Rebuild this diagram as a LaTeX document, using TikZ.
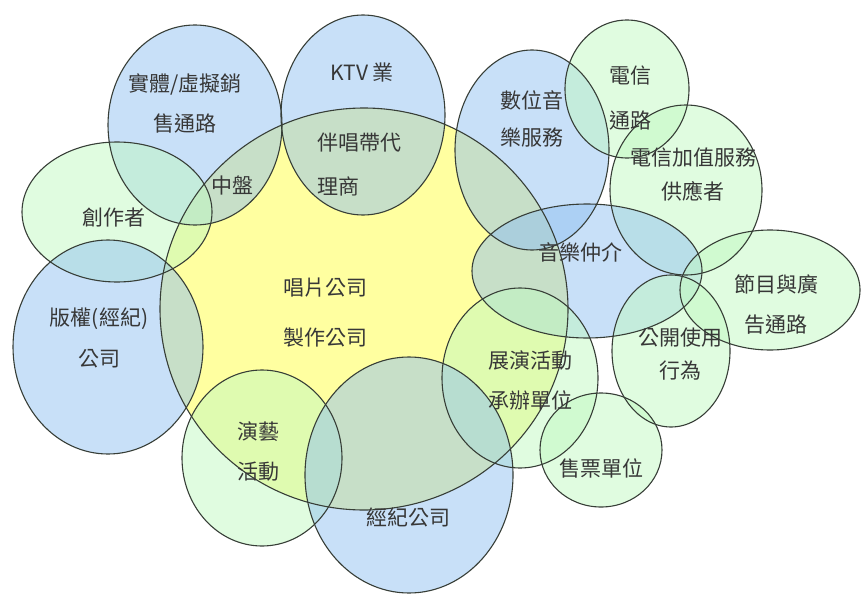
\documentclass[tikz,border=0pt]{standalone}
\usepackage{fontspec}
\setmainfont{Noto Sans CJK TC}
\usetikzlibrary{shapes.geometric}

\definecolor{zoneblue}{RGB}{145,193,241}
\definecolor{zonegreen}{RGB}{193,249,193}
\definecolor{zoneyellow}{RGB}{255,255,160}
\definecolor{rimgray}{RGB}{55,62,55}
\definecolor{textgray}{RGB}{55,55,55}

\tikzset{
  zone/.style = {ellipse, inner sep=0pt, outer sep=0pt, fill opacity=0.5},
  rim/.style = {ellipse, inner sep=0pt, outer sep=0pt, draw=rimgray, line width=1.1pt},
  lbl/.style = {font=\fontsize{21}{#1}\selectfont, text=textgray, align=center, inner sep=0pt},
  lbl/.default = 40
}

% name/x/y/x radius/y radius/colour
\def\zones{sales/195/125/87/100/zoneblue, ktv/363/115/82/100/zoneblue,
  digital/532/150/77/100/zoneblue, telecom/627/89/62/69/zonegreen,
  vas/686/190/76/85/zonegreen, writer/117/212/95/70/zonegreen,
  rights/108/347/95/107/zoneblue, agency/587/271/115/67/zoneblue,
  media/770/290/90/60/zonegreen, public/671/351/59/76/zonegreen,
  show/520/378/78/90/zonegreen, ticket/601/450/61/57/zonegreen,
  perform/262/458/80/88/zonegreen, mgmt/409/475/104/118/zoneblue}

\begin{document}
\begin{tikzpicture}[x=1pt, y=-1pt]
  \useasboundingbox (0,0) rectangle (862,594);

  % the big record label area first, then the others on top
  \node (label) [zone, fill opacity=1, fill=zoneyellow, minimum width=408, minimum height=402] at (364,309) {};
  \foreach \n/\x/\y/\rx/\ry/\c in \zones
    \node (\n) [zone, fill=\c, minimum width=2*\rx, minimum height=2*\ry] at (\x,\y) {};

  % outlines last so they stay dark
  \node [rim, minimum width=408, minimum height=402] at (label.center) {};
  \foreach \n/\x/\y/\rx/\ry/\c in \zones
    \node [rim, minimum width=2*\rx, minimum height=2*\ry] at (\n.center) {};

  % texts
  \node (t-sales) [lbl] at (185,103) {實體/虛擬銷\\售通路};
  \node (t-ktv) [lbl] at (362,73) {KTV 業};
  \node (t-karaoke) [lbl=44, align=left, anchor=west] at (317,165) {伴唱帶代\\理商};
  \node (t-middle) [lbl] at (232,185) {中盤};
  \node (t-digital) [lbl=37] at (532,119) {數位音\\樂服務};
  \node (t-telecom) [lbl=45] at (630,98) {電信\\通路};
  \node (t-vas) [lbl=34] at (693,175) {電信加值服務\\供應者};
  \node (t-writer) [lbl] at (114,218) {創作者};
  \node (t-rights) [lbl=41] at (99,338) {版權(經紀)\\公司};
  \node (t-agency) [lbl] at (580,252) {音樂仲介};
  \node (t-media) [lbl] at (776,305) {節目與廣\\告通路};
  \node (t-public) [lbl=33] at (680,354) {公開使用\\行為};
  \node (t-show) [lbl] at (530,380) {展演活動\\承辦單位};
  \node (t-ticket) [lbl] at (601,468) {售票單位};
  \node (t-label) [lbl=50] at (325,313) {唱片公司\\製作公司};
  \node (t-perform) [lbl] at (258,452) {演藝\\活動};
  \node (t-mgmt) [lbl] at (408,517) {經紀公司};
\end{tikzpicture}
\end{document}
